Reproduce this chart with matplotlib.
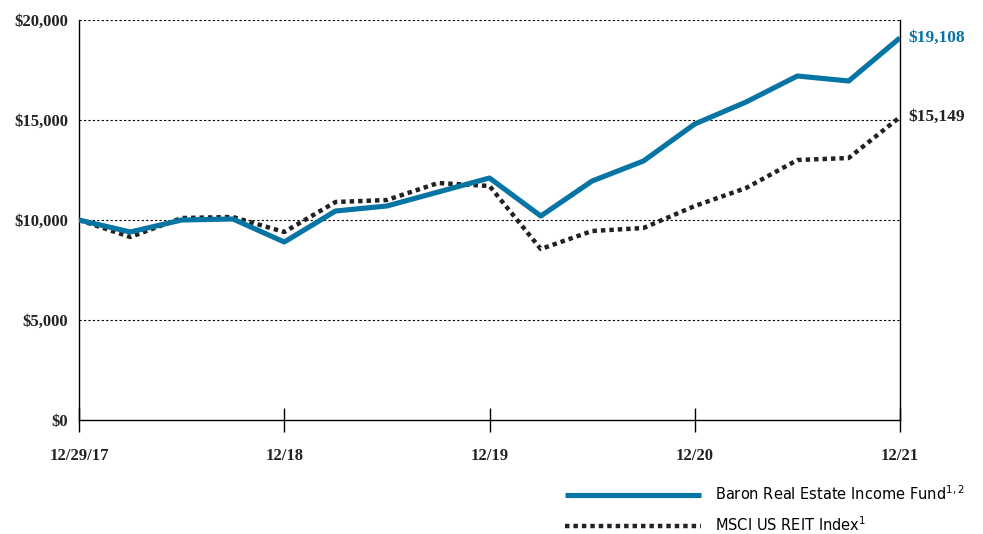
import numpy as np
import matplotlib.pyplot as plt
from matplotlib.ticker import FuncFormatter

# quarterly values, 12/29/17 .. 12/31/21
quarters = np.arange(17)
fund = [10000, 9400, 10000, 10050, 8900, 10450, 10700, 11400, 12100,
        10200, 11950, 12950, 14800, 15900, 17200, 16950, 19108]
reit = [10000, 9150, 10100, 10150, 9400, 10900, 11000, 11850, 11700,
        8550, 9450, 9600, 10700, 11600, 13000, 13100, 15149]
tick_pos = [0, 4, 8, 12, 16]
tick_labels = ["12/29/17", "12/18", "12/19", "12/20", "12/21"]
fund_name = "Baron Real Estate Income Fund$^{1,2}$"
reit_name = "MSCI US REIT Index$^{1}$"

blue = "#0775a3"
serif = ["Liberation Serif", "DejaVu Serif"]

fig = plt.figure(figsize=(9.83, 5.34), dpi=100)
ax = fig.add_axes([79 / 983, 1 - 420 / 534, (900 - 79) / 983, 400 / 534])

for y in [5000, 10000, 15000, 20000]:
    ax.axhline(y, color="black", lw=0.8, ls=(0, (2, 2)), zorder=1)

ax.plot(quarters, reit, color="#222222", lw=3.2, ls=(0, (1, 0.9)),
        label=reit_name, zorder=3)
ax.plot(quarters, fund, color=blue, lw=3.7, label=fund_name, zorder=4,
        solid_capstyle="butt")

ax.set_xlim(0, 16)
ax.set_ylim(0, 20000)
ax.set_yticks([0, 5000, 10000, 15000, 20000])
ax.yaxis.set_major_formatter(FuncFormatter(lambda v, p: "${:,.0f}".format(v)))
ax.set_xticks(tick_pos)
ax.set_xticklabels(tick_labels)

for lab in ax.get_xticklabels() + ax.get_yticklabels():
    lab.set_family(serif)
    lab.set_fontweight("bold")
    lab.set_fontsize(12)
    lab.set_color("#222222")

ax.tick_params(axis="y", length=0, pad=8)
ax.tick_params(axis="x", direction="inout", length=17, width=1.0, pad=12)
ax.spines["top"].set_visible(False)
for s in ["left", "right", "bottom"]:
    ax.spines[s].set_linewidth(1.0)
ax.spines["left"].set_bounds(0, 20000)
ax.spines["right"].set_bounds(0, 20000)

ax.annotate("${:,}".format(fund[-1]), xy=(16, fund[-1]), xytext=(6, 0),
            textcoords="offset points", va="center", ha="left",
            family=serif, fontweight="bold", fontsize=12.5, color=blue,
            annotation_clip=False)
ax.annotate("${:,}".format(reit[-1]), xy=(16, reit[-1]), xytext=(6, 0),
            textcoords="offset points", va="center", ha="left",
            family=serif, fontweight="bold", fontsize=12.5, color="#222222",
            annotation_clip=False)

handles, labels = ax.get_legend_handles_labels()
fig.legend(handles[::-1], labels[::-1], loc="lower left",
           bbox_to_anchor=(565 / 983, 0.0), frameon=False,
           borderpad=0, borderaxespad=0, handlelength=9.3,
           handletextpad=1.0, labelspacing=0.85,
           prop={"family": "DejaVu Sans", "size": 10.5})

fig.savefig("out.png", dpi=100)
